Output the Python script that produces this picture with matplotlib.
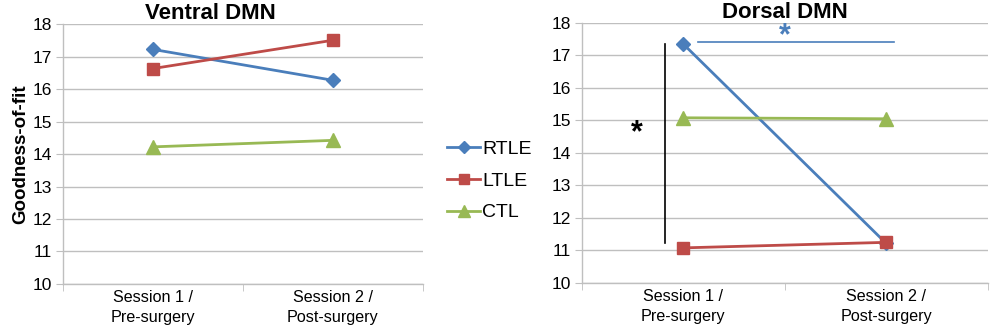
import matplotlib as mpl
mpl.use('Agg')
import matplotlib.pyplot as plt
from matplotlib.lines import Line2D

plt.rcParams['font.family'] = ['Liberation Sans', 'DejaVu Sans']

sessions = ['Session 1 /\nPre-surgery', 'Session 2 /\nPost-surgery']
groups = ['RTLE', 'LTLE', 'CTL']

ventral_rtle = [17.22, 16.27]
ventral_ltle = [16.63, 17.50]
ventral_ctl = [14.22, 14.42]

dorsal_rtle = [17.35, 11.22]
dorsal_ltle = [11.08, 11.25]
dorsal_ctl = [15.08, 15.05]

colors = {'RTLE': '#4a7ebb', 'LTLE': '#be4b48', 'CTL': '#98b954'}
markers = {'RTLE': 'D', 'LTLE': 's', 'CTL': '^'}
msizes = {'RTLE': 7.5, 'LTLE': 9, 'CTL': 10.5}

grid_col = '#bfbfbf'

fig = plt.figure(figsize=(9.92, 3.32), dpi=100)
ax1 = fig.add_axes([0.0635, 0.1446, 0.3625, 0.783])
ax2 = fig.add_axes([0.5865, 0.1476, 0.409, 0.7836])


def style_axes(ax, title, title_x):
    ax.set_xlim(-0.5, 1.5)
    ax.set_ylim(10, 18)
    ax.set_yticks(range(10, 19))
    ax.set_xticks([0, 1])
    ax.set_xticklabels(sessions, fontsize=11.6, linespacing=1.45)
    ax.set_xticks([-0.5, 0.5, 1.5], minor=True)
    ax.tick_params(axis='x', which='major', length=0, pad=4)
    ax.tick_params(axis='x', which='minor', length=5, color=grid_col, direction='out')
    ax.tick_params(axis='y', length=5, color=grid_col, labelsize=12.5, pad=3)
    ax.grid(axis='y', color=grid_col, linewidth=1)
    ax.set_axisbelow(True)
    for s in ['top', 'right']:
        ax.spines[s].set_visible(False)
    for s in ['left', 'bottom']:
        ax.spines[s].set_color(grid_col)
        ax.spines[s].set_linewidth(1)
    ax.set_title(title, fontsize=16, fontweight='bold', x=title_x, pad=1)


def draw(ax, data):
    for g, vals in zip(groups, data):
        ax.plot([0, 1], vals, color=colors[g], marker=markers[g],
                markersize=msizes[g], linewidth=2, label=g, clip_on=False)


draw(ax1, [ventral_rtle, ventral_ltle, ventral_ctl])
draw(ax2, [dorsal_rtle, dorsal_ltle, dorsal_ctl])
style_axes(ax1, 'Ventral DMN', 0.41)
style_axes(ax2, 'Dorsal DMN', 0.5)

ax1.set_ylabel('Goodness-of-fit', fontsize=13.5, fontweight='bold', labelpad=2)

# significance markers on dorsal panel
ax2.plot([-0.09, -0.09], [11.23, 17.35], color='black', linewidth=1.2)
ax2.text(-0.23, 14.6, '*', fontsize=22, fontweight='bold', ha='center', va='center')
ax2.plot([0.075, 1.04], [17.4, 17.4], color=colors['RTLE'], linewidth=1.2)
ax2.text(0.5, 17.6, '*', fontsize=22, fontweight='bold', ha='center', va='center',
         color=colors['RTLE'])

handles = [Line2D([], [], color=colors[g], marker=markers[g], markersize=msizes[g] * 0.85,
                  linewidth=2) for g in groups]
fig.legend(handles, groups, loc='upper left', bbox_to_anchor=(0.443, 0.6),
           frameon=False, fontsize=14, handlelength=1.7, handletextpad=0.1,
           labelspacing=0.72, borderaxespad=0)

fig.savefig('out.png', dpi=100)
